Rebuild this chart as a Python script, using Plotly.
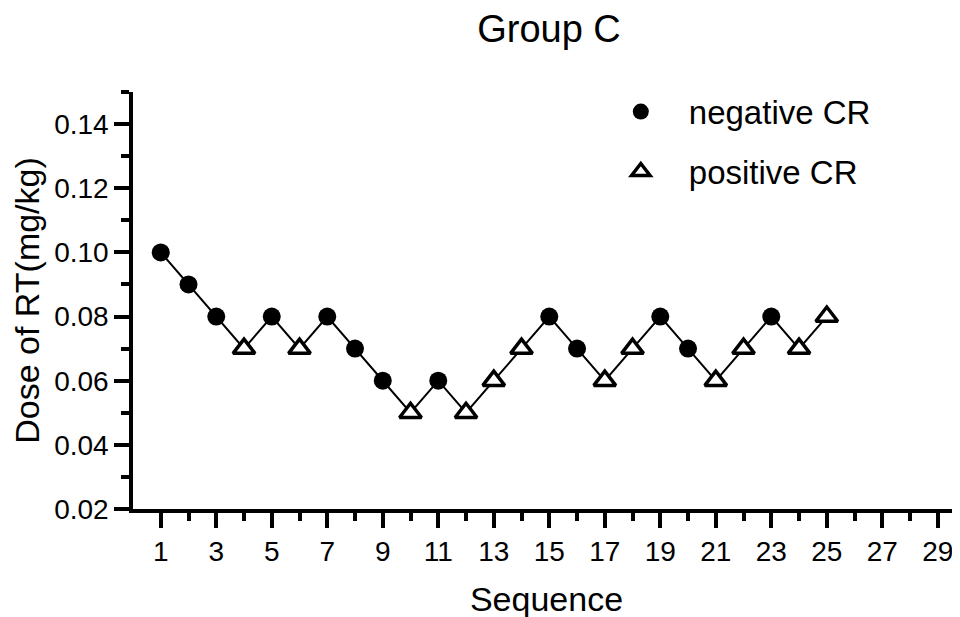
import plotly.graph_objects as go

sequence = list(range(1, 26))
dose = [0.10, 0.09, 0.08, 0.07, 0.08, 0.07, 0.08, 0.07, 0.06, 0.05,
        0.06, 0.05, 0.06, 0.07, 0.08, 0.07, 0.06, 0.07, 0.08, 0.07,
        0.06, 0.07, 0.08, 0.07, 0.08]
response = ["neg", "neg", "neg", "pos", "neg", "pos", "neg", "neg", "neg", "pos",
            "neg", "pos", "pos", "pos", "neg", "neg", "pos", "pos", "neg", "neg",
            "pos", "pos", "neg", "pos", "pos"]
x_tick_vals = list(range(1, 30, 2))
x_minor_vals = list(range(2, 30, 2))

neg_x = [s for s, r in zip(sequence, response) if r == "neg"]
neg_y = [d for d, r in zip(dose, response) if r == "neg"]
pos_x = [s for s, r in zip(sequence, response) if r == "pos"]
pos_y = [d for d, r in zip(dose, response) if r == "pos"]

FONT = "Liberation Sans, Arial, sans-serif"

fig = go.Figure()
fig.add_trace(go.Scatter(x=sequence, y=dose, mode="lines",
                         line=dict(color="black", width=2),
                         showlegend=False, hoverinfo="skip"))
fig.add_trace(go.Scatter(x=neg_x, y=neg_y, mode="markers", name="negative CR",
                         legendgroup="a",
                         marker=dict(symbol="circle", size=18, color="black",
                                     line=dict(color="black", width=0))))
fig.add_trace(go.Scatter(x=pos_x, y=pos_y, mode="markers", name="positive CR",
                         legendgroup="b",
                         marker=dict(symbol="triangle-up", size=19, color="white",
                                     line=dict(color="black", width=3.5))))

axis_common = dict(showline=True, linecolor="black", linewidth=3.5,
                   ticks="outside", ticklen=15, tickwidth=3.5, tickcolor="black",
                   showgrid=False, zeroline=False, mirror=False,
                   tickfont=dict(family=FONT, size=28, color="black"))

fig.update_xaxes(range=[0, 29.8], tickvals=x_tick_vals,
                 minor=dict(ticks="outside", ticklen=8, tickwidth=3.5, tickcolor="black",
                            tickvals=x_minor_vals),
                 title=dict(text="Sequence", font=dict(family=FONT, size=34, color="black"),
                            standoff=22),
                 **axis_common)
fig.update_yaxes(range=[0.02, 0.15], tick0=0.02, dtick=0.02, tickformat=".2f",
                 minor=dict(ticks="outside", ticklen=8, tickwidth=3.5, tickcolor="black",
                            dtick=0.01, tick0=0.01),
                 title=dict(text="Dose of RT(mg/kg)", font=dict(family=FONT, size=34, color="black"),
                            standoff=6),
                 **axis_common)

fig.update_layout(
    width=960, height=617,
    margin=dict(l=125, r=8, t=84, b=116),
    plot_bgcolor="white", paper_bgcolor="white",
    title=dict(text="Group C", x=541 / 960, xanchor="center", y=0.967, yanchor="middle",
               font=dict(family=FONT, size=38, color="black")),
    legend=dict(x=0.556, y=1.02, xanchor="left", yanchor="top",
                font=dict(family=FONT, size=33, color="black"),
                itemwidth=86,
                bgcolor="rgba(0,0,0,0)", tracegroupgap=14, traceorder="grouped"),
)

fig.write_html("out.html")
